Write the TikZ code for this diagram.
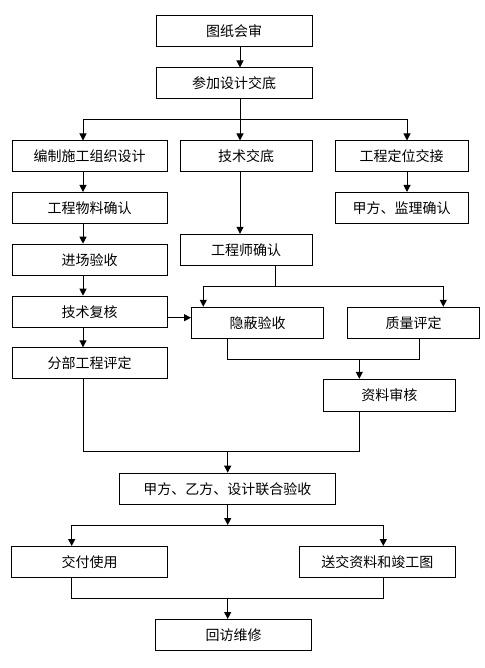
\documentclass[tikz,border=0pt]{standalone}
\usepackage{fontspec}
\newfontfamily\cjk{Noto Sans CJK SC}
\usetikzlibrary{arrows.meta}

\begin{document}
\begin{tikzpicture}[x=1pt,y=-1pt,line width=1pt,
    stepbox/.style={draw,inner sep=0pt,minimum height=31pt,font=\cjk\fontsize{14}{14}\selectfont},
    arr/.style={-{Triangle[width=7pt,length=7pt]}}]
    \useasboundingbox (0,0) rectangle (484,668);

    % boxes
    \node[stepbox,minimum width=156pt] (tzhs) at (234,31) {图纸会审};
    \node[stepbox,minimum width=156pt] (cjjd) at (234,83.5) {参加设计交底};
    \node[stepbox,minimum width=155pt] (bzsj) at (89.5,156.5) {编制施工组织设计};
    \node[stepbox,minimum width=132pt] (jsjd) at (246,156.5) {技术交底};
    \node[stepbox,minimum width=133pt] (dwjj) at (401.5,156.5) {工程定位交接};
    \node[stepbox,minimum width=155pt] (wlqr) at (89.5,208) {工程物料确认};
    \node[stepbox,minimum width=133pt] (jlqr) at (401.5,208) {甲方、监理确认};
    \node[stepbox,minimum width=155pt] (jcys) at (89.5,259.7) {进场验收};
    \node[stepbox,minimum width=132pt] (gcsqr) at (246,249.8) {工程师确认};
    \node[stepbox,minimum width=155pt] (jsfh) at (89.5,311.7) {技术复核};
    \node[stepbox,minimum width=132pt] (ybys) at (257.5,322.8) {隐蔽验收};
    \node[stepbox,minimum width=132pt] (zlpd) at (413.5,322.8) {质量评定};
    \node[stepbox,minimum width=155pt] (fbpd) at (89.5,363.3) {分部工程评定};
    \node[stepbox,minimum width=132pt,minimum height=32pt] (zlsh) at (389.3,395.3) {资料审核};
    \node[stepbox,minimum width=216pt] (lhys) at (227.3,488.7) {甲方、乙方、设计联合验收};
    \node[stepbox,minimum width=156pt] (jfsy) at (89.5,562) {交付使用};
    \node[stepbox,minimum width=156pt] (sjzl) at (377.3,562) {送交资料和竣工图};
    \node[stepbox,minimum width=156pt] (hfwx) at (233.7,635) {回访维修};

    % junctions
    \coordinate (j1) at (240,120);
    \coordinate (j2) at (275.7,286.7);
    \coordinate (j3) at (359.3,359);
    \coordinate (j4) at (227.7,451.7);
    \coordinate (j5) at (227.7,525);
    \coordinate (j6) at (227.7,598.3);

    % connectors
    \draw[arr] ([xshift=6pt]tzhs.south) -- ([xshift=6pt]cjjd.north);
    \draw ([xshift=6pt]cjjd.south) -- (j1);
    \draw[arr] (j1) -| ([xshift=-6.5pt]bzsj.north);
    \draw[arr] (j1) -- ([xshift=-6pt]jsjd.north);
    \draw[arr] (j1) -| ([xshift=5.5pt]dwjj.north);
    \draw[arr] ([xshift=-6.5pt]bzsj.south) -- ([xshift=-6.5pt]wlqr.north);
    \draw[arr] ([xshift=-6.5pt]wlqr.south) -- ([xshift=-6.5pt]jcys.north);
    \draw[arr] ([xshift=-6.5pt]jcys.south) -- ([xshift=-6.5pt]jsfh.north);
    \draw[arr] ([xshift=-6.5pt]jsfh.south) -- ([xshift=-6.5pt]fbpd.north);
    \draw[arr] ([xshift=5.5pt]dwjj.south) -- ([xshift=5.5pt]jlqr.north);
    \draw[arr] ([xshift=-6pt]jsjd.south) -- ([xshift=-6pt]gcsqr.north);
    \draw ([xshift=29.7pt]gcsqr.south) -- (j2);
    \draw[arr] (j2) -| ([xshift=-54.2pt]ybys.north);
    \draw[arr] (j2) -| ([xshift=29.8pt]zlpd.north);
    \draw[arr] ([yshift=-6pt]jsfh.east) -- ([yshift=5.1pt]ybys.west);
    \draw ([xshift=-29.8pt]ybys.south) |- (j3);
    \draw ([xshift=5.8pt]zlpd.south) |- (j3);
    \draw[arr] (j3) -- ([xshift=-30pt]zlsh.north);
    \draw ([xshift=-6.2pt]fbpd.south) |- (j4);
    \draw ([xshift=-30pt]zlsh.south) |- (j4);
    \draw[arr] (j4) -- ([xshift=0.4pt]lhys.north);
    \draw[arr] ([xshift=0.4pt]lhys.south) -- (j5);
    \draw[arr] (j5) -| ([xshift=-17.8pt]jfsy.north);
    \draw[arr] (j5) -| ([xshift=6pt]sjzl.north);
    \draw ([xshift=-17.8pt]jfsy.south) |- (j6);
    \draw ([xshift=6pt]sjzl.south) |- (j6);
    \draw[arr] (j6) -- ([xshift=-6pt]hfwx.north);
\end{tikzpicture}
\end{document}
